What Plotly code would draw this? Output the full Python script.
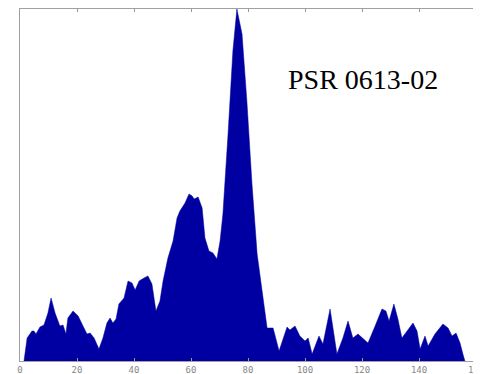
import plotly.graph_objects as go

phase = [1.4, 2.5, 4.2, 4.9, 5.6, 7.0, 8.4, 9.8, 10.9, 12.3, 14.0, 15.1, 16.1, 16.8, 18.6, 20.4,
         22.1, 23.5, 24.6, 26.0, 27.7, 29.1, 30.5, 31.6, 32.6, 33.7, 34.7, 36.5, 37.9, 39.3, 40.4,
         41.8, 43.5, 44.9, 46.3, 47.7, 49.1, 50.2, 51.9, 53.7, 55.1, 56.1, 57.9, 59.3, 60.4, 61.1,
         62.5, 63.9, 64.9, 66.3, 67.7, 69.1, 70.2, 71.2, 73.0, 74.7, 76.1, 77.9, 79.6, 81.4, 83.2,
         85.3, 86.7, 88.8, 90.9, 93.7, 94.7, 96.5, 98.2, 100.0, 101.1, 102.5, 104.9, 106.3, 108.8,
         111.2, 113.3, 115.1, 116.8, 118.6, 120.4, 122.1, 124.6, 127.0, 128.4, 129.5, 131.2, 132.6,
         134.0, 135.8, 137.9, 139.3, 140.4, 142.1, 143.2, 145.6, 148.4, 150.2, 151.6, 153.0, 154.4,
         155.4, 156.1]
intensity = [0, 23, 30, 30, 27, 34, 36, 48, 63, 48, 35, 36, 27, 43, 50, 45,
             35, 27, 28, 23, 12, 23, 38, 43, 38, 42, 57, 63, 80, 78, 71,
             80, 83, 85, 77, 50, 60, 80, 103, 120, 143, 150, 158, 167, 165, 162,
             164, 153, 123, 110, 108, 102, 120, 147, 227, 310, 352, 327, 260, 177, 107,
             60, 33, 33, 10, 34, 31, 35, 25, 20, 23, 7, 25, 17, 52,
             7, 23, 40, 23, 27, 22, 18, 35, 52, 50, 40, 57, 42,
             23, 30, 38, 30, 12, 25, 15, 27, 37, 33, 25, 28, 18,
             7, 0]

tick_vals = [0, 20, 40, 60, 80, 100, 120, 140, 160]
tick_text = [str(v) for v in tick_vals]
title_text = "PSR 0613-02"

fig = go.Figure()
fig.add_trace(go.Scatter(
    x=phase, y=intensity, mode="lines", fill="tozeroy",
    line=dict(color="#0000A2", width=0.5), fillcolor="#0000A2",
    hoverinfo="skip", showlegend=False,
))

# page body has an 8px margin, so the figure is sized/margined to compensate
fig.update_layout(
    width=473, height=366,
    margin=dict(l=12, r=5, t=1, b=13, autoexpand=False),
    paper_bgcolor="white", plot_bgcolor="white",
    xaxis=dict(
        range=[0, 160], tickvals=tick_vals, ticktext=tick_text,
        ticks="inside", ticklen=3, tickcolor="#999999", tickwidth=1,
        showline=True, linecolor="#a0a0a0", linewidth=1, mirror="ticks",
        showgrid=False, zeroline=False, automargin=False,
        ticklabeloverflow="allow",
        tickfont=dict(family="DejaVu Sans Mono", size=9, color="#888888"),
    ),
    yaxis=dict(
        range=[0, 352], showticklabels=False, ticks="",
        showline=True, linecolor="#a0a0a0", linewidth=1, mirror=True,
        showgrid=False, zeroline=False, automargin=False,
    ),
    annotations=[dict(
        text=title_text, xref="paper", yref="paper", x=0.583, y=0.80,
        xanchor="left", yanchor="middle", showarrow=False,
        font=dict(family="Liberation Serif", size=28, color="black"),
    )],
)

fig.write_html("out.html")
